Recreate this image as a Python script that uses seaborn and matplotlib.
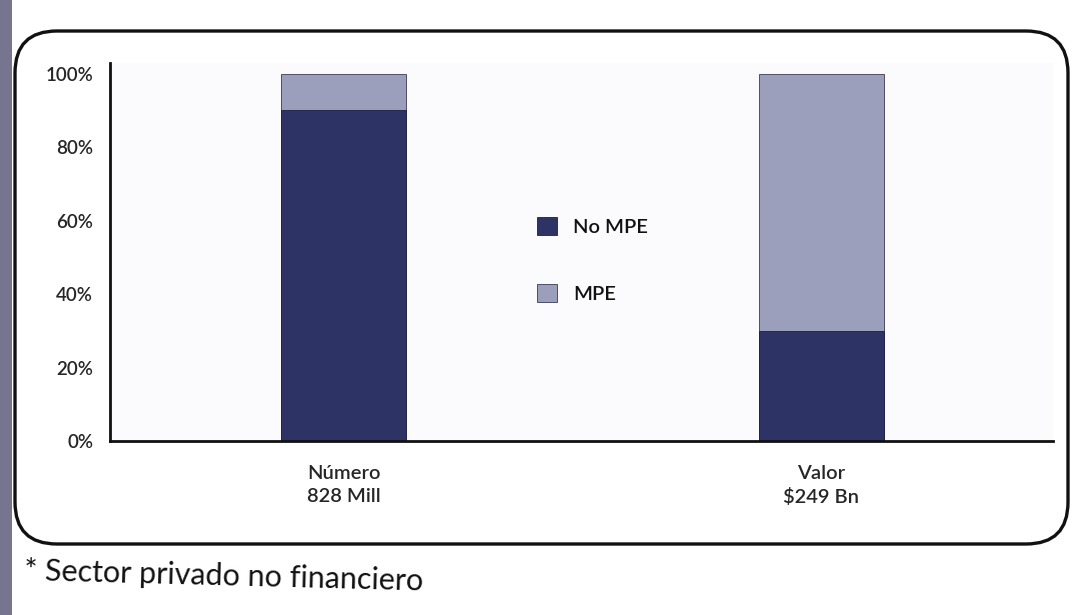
import matplotlib
matplotlib.use("Agg")
import matplotlib.pyplot as plt
import seaborn as sns
import pandas as pd
from matplotlib.patches import FancyBboxPatch, Rectangle

# ---- data ----
categories = ["Número\n828 Mill", "Valor\n$249 Bn"]
no_mpe = [0.90, 0.30]
mpe = [0.10, 0.70]
series = ["No MPE", "MPE"]
yticks = [0.0, 0.2, 0.4, 0.6, 0.8, 1.0]
ytick_labels = ["0%", "20%", "40%", "60%", "80%", "100%"]
footnote = "* Sector privado no financiero"

colors = {"No MPE": "#2e3366", "MPE": "#9c9fbc"}

sns.set_theme(style="white")
plt.rcParams["font.family"] = ["Lato", "DejaVu Sans"]
plt.rcParams["font.weight"] = "semibold"
plt.rcParams["text.color"] = "#111111"

fig = plt.figure(figsize=(10.76, 6.15), dpi=100)
fig.patch.set_facecolor("white")

# background layer in pixel coordinates: page edge, rounded frame, footnote
bg = fig.add_axes([0, 0, 1, 1])
bg.set_xlim(0, 1076)
bg.set_ylim(615, 0)
bg.axis("off")
bg.add_patch(Rectangle((0, 0), 12, 615, color="#77748f", lw=0))
bg.add_patch(FancyBboxPatch((15, 31), 1053, 513,
                            boxstyle="round,pad=0,rounding_size=42",
                            fc="white", ec="#111111", lw=2.4))
bg.text(24, 576, footnote, fontsize=22, ha="left", va="center", rotation=-1.5,
        fontweight="normal")

# main chart
ax = fig.add_axes([0.102, 0.283, 0.877, 0.615])
df = pd.DataFrame({"cat": categories, "No MPE": no_mpe, "MPE": mpe})
df["total"] = df["No MPE"] + df["MPE"]

sns.barplot(data=df, x="cat", y="total", color=colors["MPE"], saturation=1,
            width=0.262, ax=ax, label="MPE", edgecolor="#3a3a55", linewidth=0.6)
sns.barplot(data=df, x="cat", y="No MPE", color=colors["No MPE"], saturation=1,
            width=0.262, ax=ax, label="No MPE", edgecolor="#1c1f40", linewidth=0.6)

ax.set_facecolor("#fbfbfd")
ax.set_xlim(-0.49, 1.486)
ax.set_ylim(0, 1.03)
ax.set_yticks(yticks)
ax.set_yticklabels(ytick_labels)
ax.set_xlabel("")
ax.set_ylabel("")
ax.tick_params(axis="y", length=0, pad=12, labelsize=13.5)
ax.tick_params(axis="x", length=0, pad=17, labelsize=14.5)
for lbl in ax.get_xticklabels():
    lbl.set_linespacing(1.45)
for s in ["top", "right"]:
    ax.spines[s].set_visible(False)
for s in ["left", "bottom"]:
    ax.spines[s].set_color("#111111")
    ax.spines[s].set_linewidth(2)

handles, labels = ax.get_legend_handles_labels()
order = [labels.index(s) for s in series]
leg = ax.legend([handles[i] for i in order], [labels[i] for i in order],
                loc="center left", bbox_to_anchor=(537 / 1076, 1 - 260 / 615),
                bbox_transform=fig.transFigure, frameon=False, fontsize=14.5,
                handlelength=1.0, handleheight=1.0, handletextpad=0.8,
                labelspacing=2.4, borderpad=0, borderaxespad=0)

fig.savefig("out.png", dpi=100)
